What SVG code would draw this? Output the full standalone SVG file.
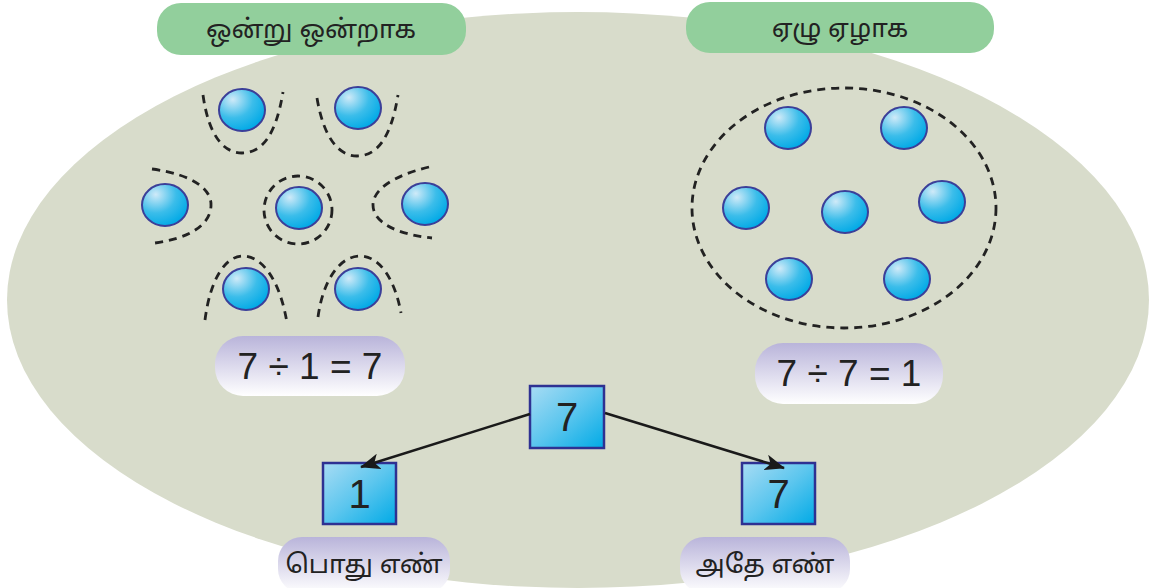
<svg xmlns="http://www.w3.org/2000/svg" width="1152" height="588" viewBox="0 0 1152 588">
<defs>
<radialGradient id="ball" cx="0.3" cy="0.25" r="0.8">
<stop offset="0" stop-color="#cfeaf8"/>
<stop offset="0.55" stop-color="#3bbdea"/>
<stop offset="1" stop-color="#00a9e6"/>
</radialGradient>
<linearGradient id="box" x1="0" y1="0" x2="1" y2="1">
<stop offset="0" stop-color="#a8dcf4"/>
<stop offset="0.5" stop-color="#5cc6ee"/>
<stop offset="1" stop-color="#00aae6"/>
</linearGradient>
<linearGradient id="lav" x1="0" y1="0" x2="0" y2="1">
<stop offset="0" stop-color="#b9b4da"/>
<stop offset="1" stop-color="#ffffff"/>
</linearGradient>
<marker id="arr" viewBox="0 0 20 16" refX="19" refY="8" markerWidth="20" markerHeight="16" markerUnits="userSpaceOnUse" orient="auto">
<path d="M0,0 L20,8 L0,16 L5,8 Z" fill="#1a1a1a"/>
</marker>
<style>
.b{fill:url(#ball);stroke:#3b3f99;stroke-width:2}
.d{fill:none;stroke:#222;stroke-width:2.8;stroke-dasharray:8 6}
.green{fill:#92cf9c}
.lav{fill:url(#lav)}
.bx{fill:url(#box);stroke:#2e3192;stroke-width:2.5}
.ta{font-family:"Noto Sans Tamil","Noto Sans",sans-serif;font-size:26px;fill:#222;text-anchor:middle}
.eq{font-family:"Liberation Sans",Arial,sans-serif;font-size:37px;fill:#222;text-anchor:middle}
.num{font-family:"Liberation Sans",Arial,sans-serif;font-size:40px;fill:#222;text-anchor:middle}
.c{stroke:#1a1a1a;stroke-width:2.5;fill:none}
</style>
</defs>
<rect width="1152" height="588" fill="#ffffff"/>
<ellipse id="bg" cx="578" cy="300" rx="571" ry="288" fill="#d8dccb"/>

<g id="title-left"><rect class="green" x="157" y="3" width="309" height="52" rx="24"/><text class="ta" x="311" y="38">ஒன்று ஒன்றாக</text></g>
<g id="title-right"><rect class="green" x="686" y="2" width="308" height="51" rx="24"/><text class="ta" x="840" y="37">ஏழு ஏழாக</text></g>

<g id="ones">
<ellipse class="b" cx="242" cy="110" rx="23" ry="21"/>
<ellipse class="b" cx="358" cy="108" rx="23" ry="21"/>
<ellipse class="b" cx="165" cy="205" rx="23" ry="21"/>
<ellipse class="b" cx="299" cy="208" rx="23" ry="21"/>
<ellipse class="b" cx="425" cy="204" rx="23" ry="21"/>
<ellipse class="b" cx="246" cy="289" rx="23" ry="21"/>
<ellipse class="b" cx="358" cy="289" rx="23" ry="21"/>
<path class="d" d="M203,95 C209,138 225,153 242,153 C262,153 276,135 283,92"/>
<path class="d" d="M317,98 C324,140 340,156 357,156 C377,156 391,138 398,95"/>
<path class="d" d="M152,169 C195,175 212,190 211,206 C210,225 190,238 155,243"/>
<circle class="d" cx="298" cy="210" r="34"/>
<path class="d" d="M429,167 C392,176 373,190 373,205 C373,222 395,234 432,238"/>
<path class="d" d="M205,320 C210,280 225,256 243,256 C262,256 280,280 287,323"/>
<path class="d" d="M318,317 C323,280 340,256 360,256 C380,256 395,280 401,313"/>
</g>

<g id="sevens">
<ellipse class="d" cx="844" cy="208" rx="152" ry="120"/>
<ellipse class="b" cx="788" cy="128" rx="23" ry="21"/>
<ellipse class="b" cx="904" cy="128" rx="23" ry="21"/>
<ellipse class="b" cx="746" cy="208" rx="23" ry="21"/>
<ellipse class="b" cx="845" cy="212" rx="23" ry="21"/>
<ellipse class="b" cx="942" cy="202" rx="23" ry="21"/>
<ellipse class="b" cx="789" cy="279" rx="23" ry="21"/>
<ellipse class="b" cx="907" cy="279" rx="23" ry="21"/>
</g>

<g id="eq-left"><rect class="lav" x="215" y="336" width="190" height="60" rx="28"/><text class="eq" x="310" y="379">7 ÷ 1 = 7</text></g>
<g id="eq-right"><rect class="lav" x="755" y="343" width="188" height="61" rx="28"/><text class="eq" x="849" y="386">7 ÷ 7 = 1</text></g>

<g id="box-top"><rect class="bx" x="530" y="386" width="74" height="62"/><text class="num" x="567" y="431">7</text></g>
<g id="box-left"><rect class="bx" x="323" y="463" width="73" height="61"/><text class="num" x="359.5" y="508">1</text></g>
<g id="box-right"><rect class="bx" x="742" y="463" width="73" height="61"/><text class="num" x="778.5" y="508">7</text></g>

<g id="connectors">
<line class="c" x1="530" y1="414" x2="361" y2="467" marker-end="url(#arr)"/>
<line class="c" x1="605" y1="413" x2="784" y2="468" marker-end="url(#arr)"/>
</g>

<g id="label-left"><rect class="lav" x="278" y="537" width="172" height="56" rx="24"/><text class="ta" x="364" y="573">பொது எண்</text></g>
<g id="label-right"><rect class="lav" x="680" y="537" width="170" height="56" rx="24"/><text class="ta" x="765" y="573">அதே எண்</text></g>
</svg>
